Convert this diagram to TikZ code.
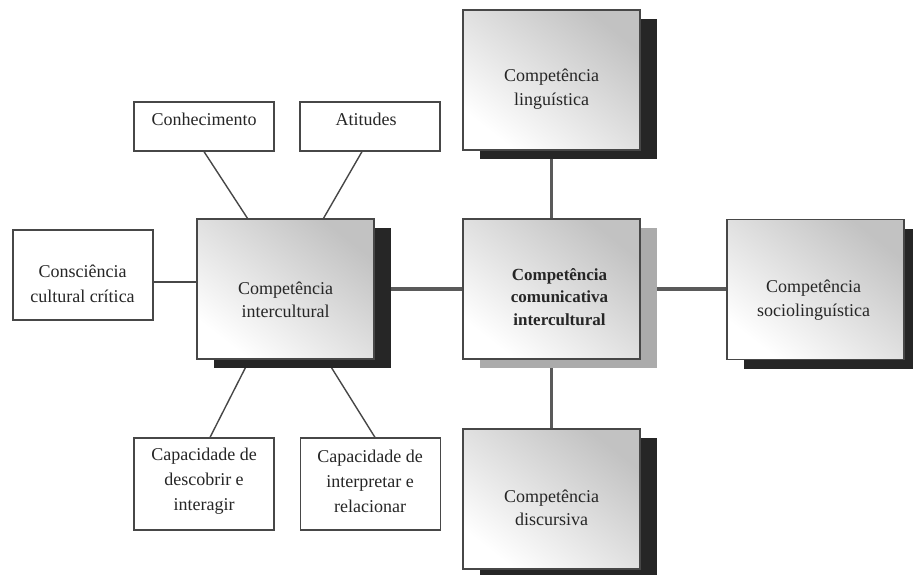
\documentclass[tikz,border=0pt]{standalone}
\usepackage{fontspec}
\setmainfont{Liberation Serif}
\usetikzlibrary{shadows,backgrounds}
\definecolor{ink}{HTML}{262626}
\definecolor{frame}{HTML}{474747}
\definecolor{bondgray}{HTML}{5A5A5A}
\begin{document}
\begin{tikzpicture}[x=1pt,y=1pt,
  bigbox/.style={draw=frame, line width=1.3pt, inner sep=0pt,
    minimum width=177pt, minimum height=140pt,
    top color=black!24, middle color=black!4, bottom color=white,
    shading angle=-38,
    general shadow={fill=#1, shadow xshift=17pt, shadow yshift=-9pt}},
  smallbox/.style={draw=frame, line width=1.2pt, fill=white, inner sep=0pt,
    minimum width=140pt},
  bigtext/.style={text=ink, align=center, inner sep=0pt,
    font=\fontsize{18}{23.5}\selectfont},
  boldtext/.style={bigtext, font=\fontsize{17}{22.5}\selectfont\bfseries},
  smalltext/.style={text=ink, align=center, inner sep=0pt,
    font=\fontsize{18}{25}\selectfont},
  bond/.style={draw=bondgray, line width=3.3pt},
  link/.style={draw=frame, line width=1.4pt}]

\useasboundingbox (0,0) rectangle (913,-575);

% main competence boxes
\node[bigbox=black!85] (T) at (551.5,-80) {};
\node[bigbox=black!33] (C) at (551.5,-289) {};
\node[bigbox=black!85] (R) at (815.5,-289.5) {};
\node[bigbox=black!85] (B) at (551.5,-499) {};
\node[bigbox=black!85] (L) at (285.5,-289) {};

\node[bigtext]  (Ttxt) at ([yshift=-9pt]T.center) {Competência\\linguística};
\node[boldtext] (Ctxt) at ([xshift=8pt,yshift=-8pt]C.center) {Competência\\comunicativa\\intercultural};
\node[bigtext]  (Rtxt) at ([xshift=-2pt,yshift=-10.5pt]R.center) {Competência\\sociolinguística};
\node[bigtext]  (Btxt) at ([yshift=-9pt]B.center) {Competência\\discursiva};
\node[bigtext]  (Ltxt) at ([yshift=-11pt]L.center) {Competência\\intercultural};

% components of intercultural competence
\node[smallbox, minimum height=49pt] (K) at (204,-126.5) {};
\node[smallbox, minimum height=49pt] (A) at (370,-126.5) {};
\node[smallbox, minimum height=90pt] (CC) at (83,-275) {};
\node[smallbox, minimum height=92pt] (D) at (204,-484) {};
\node[smallbox, minimum height=92pt] (I) at (370.5,-484) {};

\node[smalltext] (Ktxt) at (204,-119) {Conhecimento};
\node[smalltext] (Atxt) at (366,-119) {Atitudes};
\node[smalltext] (CCtxt) at (82.5,-283.5) {Consciência\\cultural crítica};
\node[smalltext] (Dtxt) at (204,-481) {Capacidade de\\descobrir e\\interagir};
\node[smalltext] (Itxt) at (370,-481) {Capacidade de\\interpretar e\\relacionar};

% connectors
\begin{scope}[on background layer]
  \draw[bond] (C.north) -- (T.south);
  \draw[bond] (C.south) -- (B.north);
  \draw[bond] (C.west) -- (L.east);
  \draw[bond] (C.east) -- (C.east -| R.west);
  \draw[link] (K.south) -- ([xshift=-38pt]L.north);
  \draw[link] ([xshift=-8pt]A.south) -- ([xshift=38pt]L.north);
  \draw[link] ([yshift=-7pt]CC.east) -- ([yshift=-7pt]CC.east -| L.west);
  \draw[link] ([xshift=-36pt]L.south) -- ([xshift=6pt]D.north);
  \draw[link] ([xshift=41pt]L.south) -- ([xshift=4.5pt]I.north);
\end{scope}
\end{tikzpicture}
\end{document}
